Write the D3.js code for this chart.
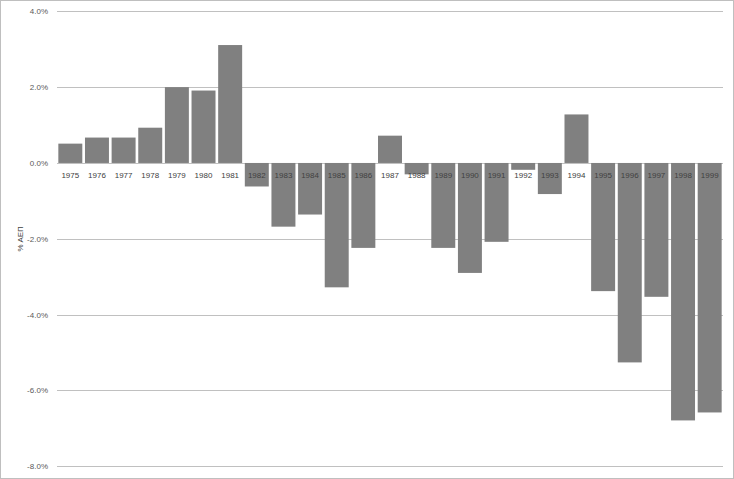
<!DOCTYPE html>
<html>
<head>
<meta charset="utf-8">
<script src="https://cdn.jsdelivr.net/npm/d3@7"></script>
<style>
  body { margin: 0; background: #fff; }
  svg { display: block; font-family: "Liberation Sans", Arial, sans-serif; }
</style>
</head>
<body>
<svg id="chart" width="734" height="479"></svg>
<script>
// years and balance as % of GDP
const years = ["1975", "1976", "1977", "1978", "1979", "1980", "1981", "1982", "1983", "1984",
  "1985", "1986", "1987", "1988", "1989", "1990", "1991", "1992", "1993", "1994",
  "1995", "1996", "1997", "1998", "1999"];
const values = [0.51, 0.67, 0.67, 0.93, 2.0, 1.91, 3.11, -0.62, -1.68, -1.36,
  -3.28, -2.24, 0.72, -0.30, -2.24, -2.9, -2.08, -0.18, -0.82, 1.28,
  -3.38, -5.26, -3.53, -6.79, -6.58];
const yTicks = [4, 2, 0, -2, -4, -6, -8];
const yTitle = "% ΑΕΠ";

const svg = d3.select("#chart");
const width = 734, height = 479;
const margin = {top: 11.3, right: 11, bottom: 12.7, left: 57};

// outer frame
svg.append("rect")
  .attr("x", 0.5).attr("y", 0.5)
  .attr("width", width - 1).attr("height", height - 1)
  .attr("fill", "#fff").attr("stroke", "#bfbfbf");

const x = d3.scaleBand()
  .domain(years)
  .range([margin.left, width - margin.right])
  .paddingInner(0.1)
  .paddingOuter(0.05);

const y = d3.scaleLinear()
  .domain([-8, 4])
  .range([height - margin.bottom, margin.top]);

// gridlines
svg.append("g")
  .selectAll("line")
  .data(yTicks)
  .enter()
  .append("line")
  .attr("x1", margin.left)
  .attr("x2", width - margin.right)
  .attr("y1", d => Math.round(y(d)) + 0.5)
  .attr("y2", d => Math.round(y(d)) + 0.5)
  .attr("stroke", "#c0c0c0")
  .attr("stroke-width", 1);

// y tick labels
svg.append("g")
  .selectAll("text")
  .data(yTicks)
  .enter()
  .append("text")
  .attr("x", 48)
  .attr("y", d => y(d) + 3)
  .attr("text-anchor", "end")
  .attr("font-size", 8)
  .attr("fill", "#595959")
  .text(d => d.toFixed(1) + "%");

// bars
svg.append("g")
  .selectAll("rect")
  .data(values)
  .enter()
  .append("rect")
  .attr("x", (d, i) => x(years[i]))
  .attr("width", x.bandwidth())
  .attr("y", d => y(Math.max(0, d)))
  .attr("height", d => Math.abs(y(d) - y(0)))
  .attr("fill", "#808080");

// year labels just under the zero line
svg.append("g")
  .selectAll("text")
  .data(years)
  .enter()
  .append("text")
  .attr("x", d => x(d) + x.bandwidth() / 2)
  .attr("y", y(0) + 15.5)
  .attr("text-anchor", "middle")
  .attr("font-size", 8)
  .attr("fill", "#404040")
  .text(d => d);

// y axis title
svg.append("text")
  .attr("transform", `translate(23, ${(margin.top + height - margin.bottom) / 2}) rotate(-90)`)
  .attr("text-anchor", "middle")
  .attr("font-size", 8)
  .attr("fill", "#404040")
  .text(yTitle);
</script>
</body>
</html>
